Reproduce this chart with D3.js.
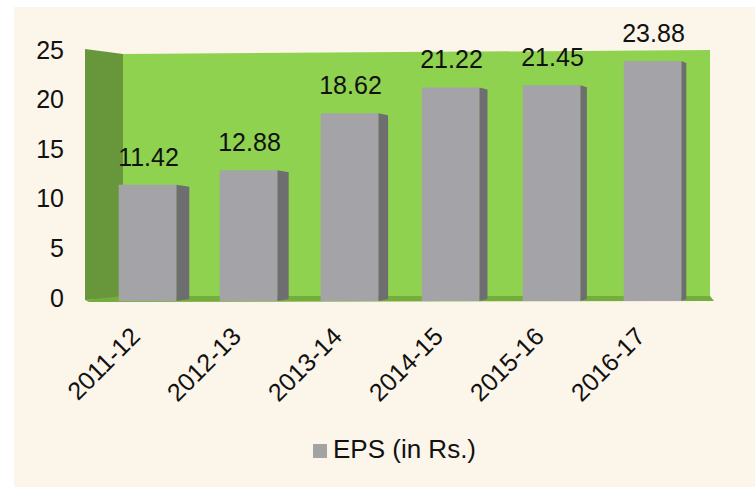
<!DOCTYPE html>
<html>
<head>
<meta charset="utf-8">
<script src="https://cdn.jsdelivr.net/npm/d3@7"></script>
<style>
  body { margin: 0; background: #fff; }
  text { font-family: "Liberation Sans", Arial, sans-serif; fill: #111; }
</style>
</head>
<body>
<div id="eps_chart"></div>
<script>
// data
const years = ["2011-12", "2012-13", "2013-14", "2014-15", "2015-16", "2016-17"];
const eps = [11.42, 12.88, 18.62, 21.22, 21.45, 23.88];
const yTicks = [0, 5, 10, 15, 20, 25];
const seriesName = "EPS (in Rs.)";

const W = 755, H = 487;

let svg = d3.select("#eps_chart")
  .append("svg")
    .attr("width", W)
    .attr("height", H);

// cream panel
svg.append("rect")
  .attr("x", 14).attr("y", 7)
  .attr("width", W - 14).attr("height", H - 7)
  .attr("fill", "#fcf5e9");

let y = d3.scaleLinear([0, 25], [298, 50]);
let x = d3.scaleBand(years, [97, 703])
  .paddingInner(0.43)
  .paddingOuter(0.215);

// depth of the bar side gets smaller to the right (perspective)
let depth = d3.scaleLinear([x(years[0]), x(years[5])], [13, 5]);

const wallL = 123, wallR = 710, sideL = 85;

// left side wall
svg.append("polygon")
  .attr("points", [[sideL, y(25) - 1], [wallL, y(25) + 4], [wallL, y(0)], [sideL, y(0) + 2]].join(" "))
  .attr("fill", "#68963a");

// back wall
svg.append("polygon")
  .attr("points", [[wallL, y(25) + 4], [wallR, y(25)], [wallR, y(0)], [wallL, y(0)]].join(" "))
  .attr("fill", "#8fd24f");

// floor strip
svg.append("polygon")
  .attr("points", [[sideL, y(0) + 2], [wallL, y(0) - 2], [wallR, y(0) - 2], [wallR + 4, y(0) + 3], [sideL + 4, y(0) + 4]].join(" "))
  .attr("fill", "#74ad3c");

let data = years.map((d, i) => ({year: d, value: eps[i]}));

let bars = svg.append("g")
  .selectAll("g")
  .data(data)
  .join("g");

// side of bar
bars.append("polygon")
  .attr("points", d => {
    let x1 = x(d.year) + x.bandwidth(), dd = depth(x(d.year));
    return [[x1, y(d.value)], [x1 + dd, y(d.value) + 2], [x1 + dd, y(0) + 1], [x1, y(0) + 3]].join(" ");
  })
  .attr("fill", "#6e6e71");

// front of bar
bars.append("rect")
  .attr("x", d => x(d.year))
  .attr("y", d => y(d.value))
  .attr("width", x.bandwidth())
  .attr("height", d => y(0) + 3 - y(d.value))
  .attr("fill", "#a4a3a7");

// value labels
bars.append("text")
  .attr("x", d => x(d.year) + x.bandwidth() / 2 + 1)
  .attr("y", d => y(d.value) - 19)
  .attr("text-anchor", "middle")
  .style("font-size", "25px")
  .text(d => d.value.toFixed(2));

// y axis
let yAxis = svg.append("g")
  .attr("transform", "translate(64,0)")
  .call(d3.axisLeft(y).tickValues(yTicks).tickSize(0).tickPadding(0));
yAxis.select(".domain").remove();
yAxis.selectAll("text")
  .style("font-size", "25px")
  .style("font-family", "'Liberation Sans', Arial, sans-serif")
  .attr("fill", "#111");

// category labels
svg.append("g")
  .selectAll("text")
  .data(years)
  .join("text")
    .attr("transform", d => "translate(" + (x(d) + x.bandwidth() / 2 - 6) + ",338)rotate(-45)")
    .attr("text-anchor", "end")
    .style("font-size", "25px")
    .text(d => d);

// legend
svg.append("rect")
  .attr("x", 313).attr("y", 444)
  .attr("width", 14).attr("height", 14)
  .attr("fill", "#a3a3a3");
svg.append("text")
  .attr("x", 333).attr("y", 458)
  .style("font-size", "26px")
  .text(seriesName);
</script>
</body>
</html>
